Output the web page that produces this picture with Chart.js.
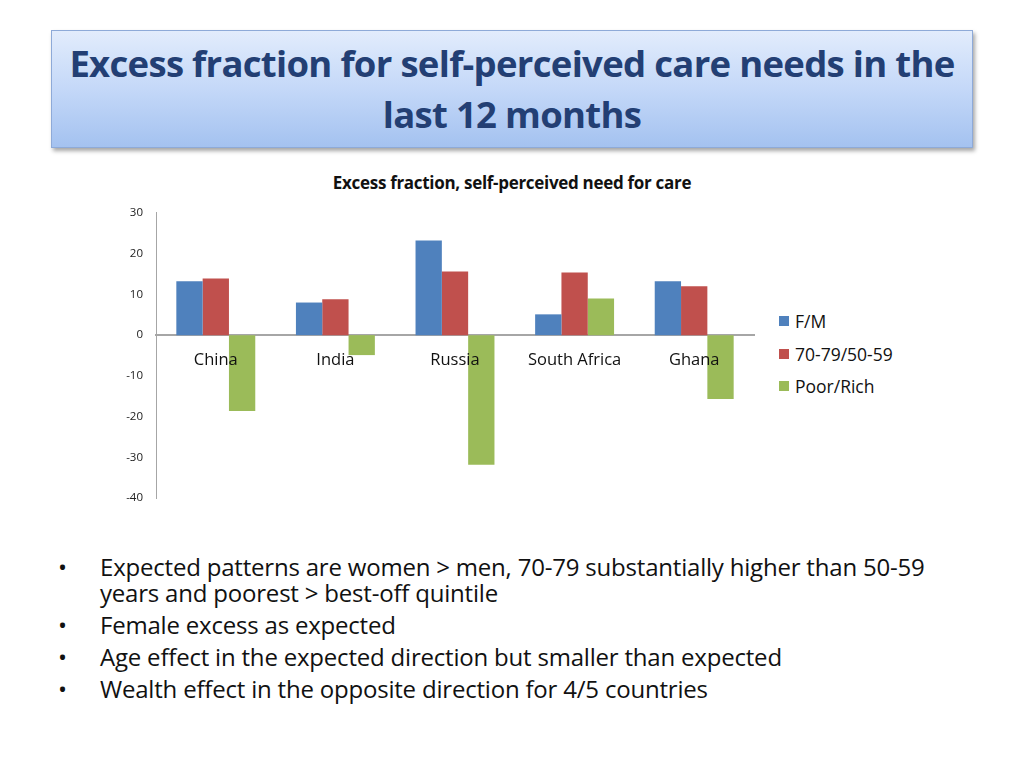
<!DOCTYPE html>
<html>
<head>
<meta charset="utf-8">
<script src="https://cdn.jsdelivr.net/npm/chart.js@4"></script>
<style>
  body { margin: 0; width: 1024px; height: 768px; background: #fff; font-family: "Open Sans", sans-serif; position: relative; overflow: hidden; }
  .title-box {
    position: absolute; left: 51px; top: 30px; width: 920px; height: 116px;
    border: 1px solid #8eaad8;
    background: linear-gradient(to bottom, #e2ecfc 0%, #c4d8f8 50%, #a4c2f0 100%);
    box-shadow: 2px 3px 4px rgba(0,0,0,0.35);
    display: flex; align-items: center; justify-content: center; text-align: center;
  }
  .title-box h1 { margin: 0; font-size: 36.5px; line-height: 51px; color: #233f74; font-weight: 700; letter-spacing: -0.7px; }
  .chart-title { position: absolute; left: 0; width: 1024px; top: 171px; text-align: center; font-size: 17px; font-weight: 700; color: #111; letter-spacing: -0.3px; }
  .chart-wrap { position: absolute; left: 100px; top: 193px; width: 660px; height: 325px; }
  .legend { position: absolute; left: 779px; top: 309px; font-size: 17.5px; color: #111; }
  .legend div { height: 32.5px; display: flex; align-items: flex-start; }
  .legend span.sw { display: inline-block; width: 10px; height: 10px; margin: 7px 6px 0 0; }
  ul { position: absolute; left: 56px; top: 554px; margin: 0; padding: 0; list-style: none; font-size: 24px; color: #111; letter-spacing: -0.2px; }
  ul li { position: relative; padding-left: 44px; line-height: 26px; margin-bottom: 6px; width: 830px; }
  ul li::before { content: "•"; position: absolute; left: 2px; }
</style>
</head>
<body>
<div class="title-box"><h1>Excess fraction for self-perceived care needs in the<br>last 12 months</h1></div>
<div class="chart-title">Excess fraction, self-perceived need for care</div>
<div class="chart-wrap"><canvas id="chart"></canvas></div>
<div class="legend" id="legend"></div>
<ul>
  <li>Expected patterns are women &gt; men, 70-79 substantially higher than 50-59 years and poorest &gt; best-off quintile</li>
  <li>Female excess as expected</li>
  <li>Age effect in the expected direction but smaller than expected</li>
  <li>Wealth effect in the opposite direction for 4/5 countries</li>
</ul>
<script>
const countries = ['China', 'India', 'Russia', 'South Africa', 'Ghana'];
const seriesNames = ['F/M', '70-79/50-59', 'Poor/Rich'];
const femaleMale = [13.2, 8.0, 23.2, 5.1, 13.2];
const oldYoung = [13.9, 8.8, 15.6, 15.4, 12.0];
const poorRich = [-18.6, -4.9, -31.8, 9.0, -15.7];
const seriesColors = ['#4f81bd', '#c0504d', '#9bbb59'];
const yTicks = [30, 20, 10, 0, -10, -20, -30, -40];

const seriesData = [femaleMale, oldYoung, poorRich];

new Chart(document.getElementById('chart'), {
    type: 'bar',
    data: {
        labels: countries,
        datasets: seriesData.map((d, i) => ({
            label: seriesNames[i],
            data: d,
            backgroundColor: seriesColors[i],
            borderWidth: 0,
            categoryPercentage: 0.66,
            barPercentage: 1.0
        }))
    },
    options: {
        responsive: true,
        maintainAspectRatio: false,
        animation: false,
        layout: { padding: { top: 11, bottom: 9, right: 6, left: 0 } },
        plugins: { legend: { display: false }, tooltip: { enabled: false } },
        scales: {
            x: {
                position: { y: 0 },
                grid: { display: false, drawTicks: false },
                border: { color: '#a6a6a6', width: 2 },
                // z: 1 so the country names sit on top of the bars, like the original
                ticks: { z: 1, color: '#111', font: { family: 'Open Sans', size: 16.5 }, padding: 15 }
            },
            y: {
                min: -40, max: 30,
                afterFit: (axis) => { axis.width = 56; },
                afterBuildTicks: (axis) => { axis.ticks = yTicks.map(v => ({ value: v })); },
                grid: { display: false, drawTicks: false },
                border: { color: '#a6a6a6', width: 1 },
                ticks: { color: '#222', font: { family: 'Open Sans', size: 11.5 }, padding: 13 }
            }
        }
    }
});

// legend
const legend = document.getElementById('legend');
seriesNames.forEach((n, i) => {
    const row = document.createElement('div');
    row.innerHTML = '<span class="sw" style="background:' + seriesColors[i] + '"></span>' + n;
    legend.appendChild(row);
});
</script>
</body>
</html>
